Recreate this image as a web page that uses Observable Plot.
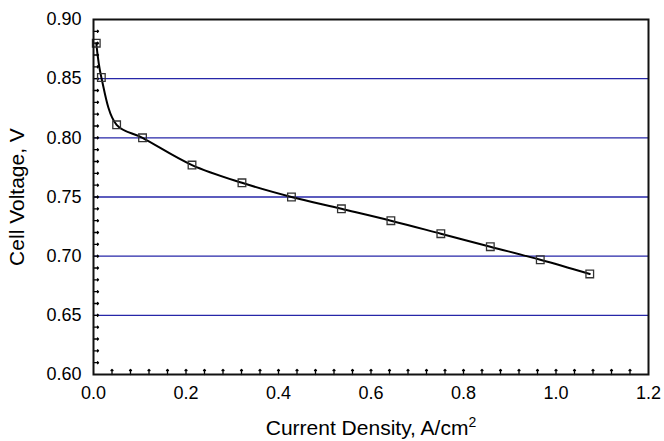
<!DOCTYPE html>
<html>
<head>
<meta charset="utf-8">
<script src="https://cdn.jsdelivr.net/npm/d3@7"></script>
<script src="https://cdn.jsdelivr.net/npm/@observablehq/plot@0.6"></script>
<style>
  html, body { margin: 0; padding: 0; background: #fff; }
  #chart svg { font-family: "Liberation Sans", Arial, sans-serif; }
</style>
</head>
<body>
<div id="chart"></div>
<script>
const currentDensity = [0.006, 0.017, 0.05, 0.106, 0.213, 0.321, 0.428, 0.536, 0.643, 0.751, 0.858, 0.966, 1.073];
const cellVoltage    = [0.880, 0.851, 0.811, 0.800, 0.777, 0.762, 0.750, 0.740, 0.730, 0.719, 0.708, 0.697, 0.685];
const xTicks = [0, 0.2, 0.4, 0.6, 0.8, 1.0, 1.2];
const yTicks = [0.60, 0.65, 0.70, 0.75, 0.80, 0.85, 0.90];
const gridLines = [0.65, 0.70, 0.75, 0.80, 0.85];
const xMinorTicks = d3.range(1, 30).map(i => i * 0.04);
const yMinorTicks = d3.range(1, 30).map(i => 0.60 + i * 0.01);
const xTitle = "Current Density, A/cm";
const xTitleSup = "2";
const yTitle = "Cell Voltage, V";

const data = currentDensity.map((x, i) => ({x, y: cellVoltage[i]}));

const chart = Plot.plot({
  width: 664,
  height: 441,
  marginLeft: 93,
  marginRight: 16,
  marginTop: 19,
  marginBottom: 67,
  style: {fontSize: "18px", fontFamily: "Liberation Sans, Arial, sans-serif", color: "#000"},
  x: {domain: [0, 1.2]},
  y: {domain: [0.60, 0.90]},
  marks: [
    Plot.ruleY(gridLines, {stroke: "#2626a8", strokeWidth: 1.3}),
    Plot.vector(xMinorTicks, {x: d => d, y: 0.60, length: 5, rotate: 0, anchor: "start", stroke: "#000", strokeWidth: 1.3}),
    Plot.vector(yMinorTicks, {x: 0, y: d => d, length: 5, rotate: 90, anchor: "start", stroke: "#000", strokeWidth: 1.3}),
    Plot.line(data, {x: "x", y: "y", curve: "catmull-rom", stroke: "#000", strokeWidth: 2}),
    Plot.dot(data, {x: "x", y: "y", symbol: "square", r: 4.3, stroke: "#333", strokeWidth: 1.3, fill: "none"}),
    Plot.frame({stroke: "#111", strokeWidth: 2}),
    Plot.axisX(xTicks, {tickSize: 0, tickPadding: 12, tickFormat: d3.format(".1f"),
      label: xTitle + xTitleSup, labelAnchor: "center", labelArrow: "none", labelOffset: 60}),
    Plot.axisY(yTicks, {tickSize: 0, tickPadding: 12, tickFormat: d3.format(".2f"),
      label: yTitle, labelAnchor: "center", labelArrow: "none", labelOffset: 84})
  ]
});
document.getElementById("chart").appendChild(chart);

// enlarge axis titles and make the exponent a real superscript
const svg = d3.select(chart);
svg.selectAll('g[aria-label="x-axis label"] text, g[aria-label="y-axis label"] text')
  .attr("font-size", "21px");
svg.selectAll('g[aria-label="x-axis label"] text').each(function () {
  const t = d3.select(this);
  t.text(null);
  t.append("tspan").text(xTitle);
  t.append("tspan").attr("dy", "-0.55em").attr("font-size", "14px").text(xTitleSup);
});
</script>
</body>
</html>
